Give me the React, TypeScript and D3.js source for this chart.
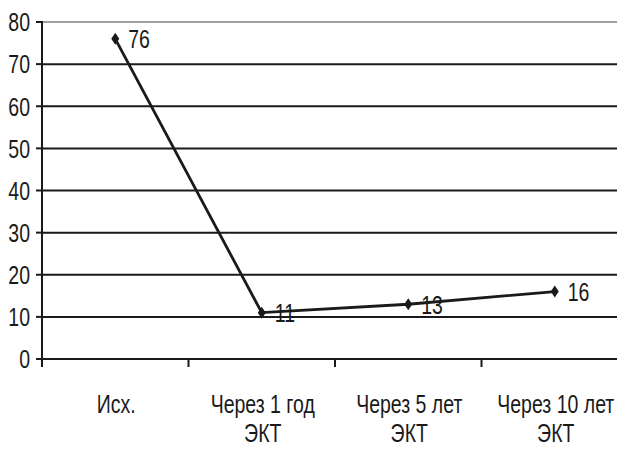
import React from "react";
import * as d3 from "d3";

const categories = ["Исх.", "Через 1 год|ЭКТ", "Через 5 лет|ЭКТ", "Через 10 лет|ЭКТ"];
const values = [76, 11, 13, 16];
const yTicks = [0, 10, 20, 30, 40, 50, 60, 70, 80];

const W = 617;
const H = 449;
const FONT = "'Liberation Sans', Arial, sans-serif";
const FS = 25;
const SX = 0.78; // condensed look

type LabelProps = {
  x: number;
  y: number;
  anchor?: "start" | "middle" | "end";
  baseline?: string;
  children: React.ReactNode;
};

function Label({ x, y, anchor = "start", baseline, children }: LabelProps) {
  return (
    <text
      transform={`translate(${x},${y}) scale(${SX},1)`}
      textAnchor={anchor}
      dominantBaseline={baseline}
      fontFamily={FONT}
      fontSize={FS}
      fill="#1a1a1a"
    >
      {children}
    </text>
  );
}

export default function App() {
  const left = 42;
  const right = 628;
  const top = 22;
  const bottom = 359;

  const x = d3.scaleBand<string>().domain(categories).range([left, right]).paddingInner(0).paddingOuter(0);
  const y = d3.scaleLinear().domain([0, 80]).range([bottom, top]);
  const cx = (c: string) => (x(c) as number) + x.bandwidth() / 2;

  const line = d3
    .line<number>()
    .x((_, i) => cx(categories[i]))
    .y((d) => y(d));

  const diamond = (px: number, py: number) =>
    `M${px},${py - 6} L${px + 4},${py} L${px},${py + 6} L${px - 4},${py} Z`;

  return (
    <svg width={W} height={H} style={{ position: "absolute", left: 0, top: 0, background: "#fff" }}>
      {yTicks.map((t) => (
        <g key={t}>
          {t > 0 && (
            <line
              x1={left}
              x2={W}
              y1={y(t)}
              y2={y(t)}
              stroke={t === 80 ? "#a0a0a0" : "#1a1a1a"}
              strokeWidth={2}
            />
          )}
          <line x1={left - 6} x2={left} y1={y(t)} y2={y(t)} stroke="#1a1a1a" strokeWidth={2} />
          <Label x={30} y={y(t) + 1} anchor="end" baseline="central">
            {t}
          </Label>
        </g>
      ))}
      {/* x axis */}
      <line x1={left} x2={W} y1={bottom} y2={bottom} stroke="#1a1a1a" strokeWidth={2} />
      <line x1={left} x2={left} y1={top - 1} y2={bottom + 8} stroke="#1a1a1a" strokeWidth={2} />
      {categories.slice(1).map((c) => (
        <line
          key={c}
          x1={x(c) as number}
          x2={x(c) as number}
          y1={bottom}
          y2={bottom + 8}
          stroke="#1a1a1a"
          strokeWidth={2}
        />
      ))}
      {categories.map((c) =>
        c.split("|").map((p, i) => (
          <Label key={c + i} x={cx(c) + 1} y={413 + i * 29} anchor="middle">
            {p}
          </Label>
        ))
      )}
      <path d={line(values) || ""} fill="none" stroke="#1a1a1a" strokeWidth={2.8} />
      {values.map((v, i) => (
        <g key={i}>
          <path d={diamond(cx(categories[i]), y(v))} fill="#1a1a1a" />
          <Label x={cx(categories[i]) + 13} y={y(v) + 1} baseline="central">
            {v}
          </Label>
        </g>
      ))}
    </svg>
  );
}
